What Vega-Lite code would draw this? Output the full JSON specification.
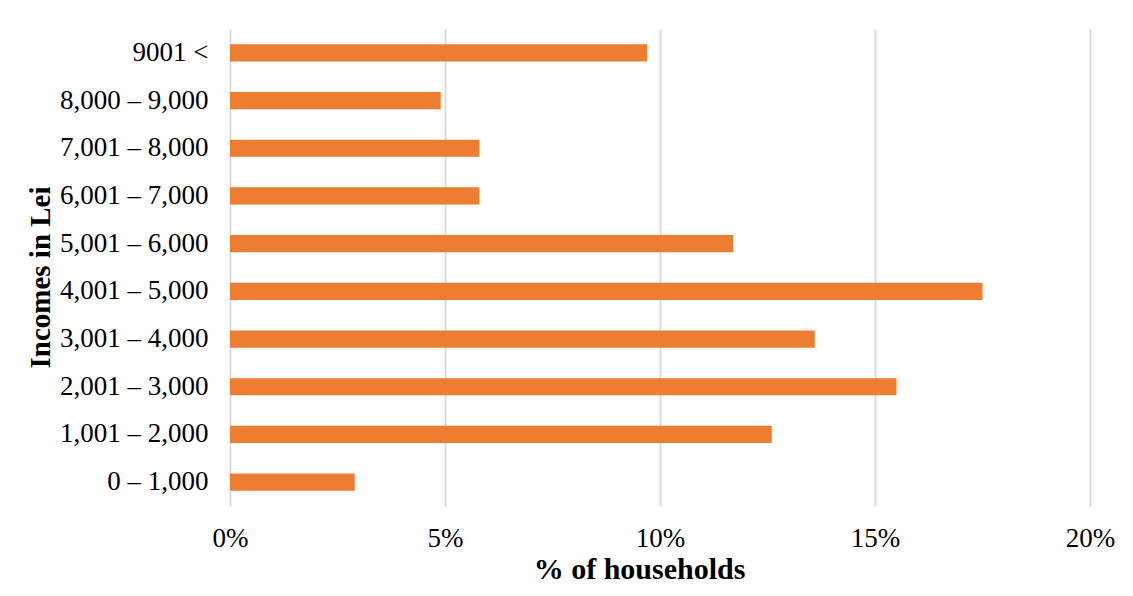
{
  "$schema": "https://vega.github.io/schema/vega-lite/v6.json",
  "autosize": {"type": "none"},
  "width": 860,
  "height": 477,
  "padding": {"left": 230, "top": 29, "right": 43, "bottom": 90},
  "background": "white",
  "data": {
    "values": [
      {"income": "9001 <", "share": 0.097},
      {"income": "8,000 – 9,000", "share": 0.049},
      {"income": "7,001 – 8,000", "share": 0.058},
      {"income": "6,001 – 7,000", "share": 0.058},
      {"income": "5,001 – 6,000", "share": 0.117},
      {"income": "4,001 – 5,000", "share": 0.175},
      {"income": "3,001 – 4,000", "share": 0.136},
      {"income": "2,001 – 3,000", "share": 0.155},
      {"income": "1,001 – 2,000", "share": 0.126},
      {"income": "0 – 1,000", "share": 0.029}
    ]
  },
  "mark": {"type": "bar", "color": "#ED7D31"},
  "encoding": {
    "y": {
      "field": "income",
      "type": "nominal",
      "sort": null,
      "scale": {"paddingInner": 0.64, "paddingOuter": 0.32},
      "axis": {
        "title": "Incomes in Lei",
        "labelFont": "Liberation Serif",
        "labelFontSize": 27,
        "labelColor": "#000000",
        "labelPadding": 22,
        "ticks": false,
        "domain": false,
        "titleFont": "Liberation Serif",
        "titleFontSize": 29,
        "titleFontWeight": "bold",
        "titleColor": "#000000",
        "titleY": 248,
        "titlePadding": 4
      }
    },
    "x": {
      "field": "share",
      "type": "quantitative",
      "scale": {"domain": [0, 0.2], "nice": false},
      "axis": {
        "title": "% of households",
        "format": ".0%",
        "values": [0, 0.05, 0.1, 0.15, 0.2],
        "labelFont": "Liberation Serif",
        "labelFontSize": 27,
        "labelColor": "#000000",
        "labelPadding": 19,
        "labelFlush": false,
        "ticks": false,
        "domain": false,
        "grid": true,
        "gridColor": "#d9d9d9",
        "gridWidth": 1.8,
        "titleFont": "Liberation Serif",
        "titleFontSize": 30,
        "titleFontWeight": "bold",
        "titleColor": "#000000",
        "titleX": 409,
        "titlePadding": 3
      }
    }
  },
  "config": {"view": {"stroke": null}}
}
